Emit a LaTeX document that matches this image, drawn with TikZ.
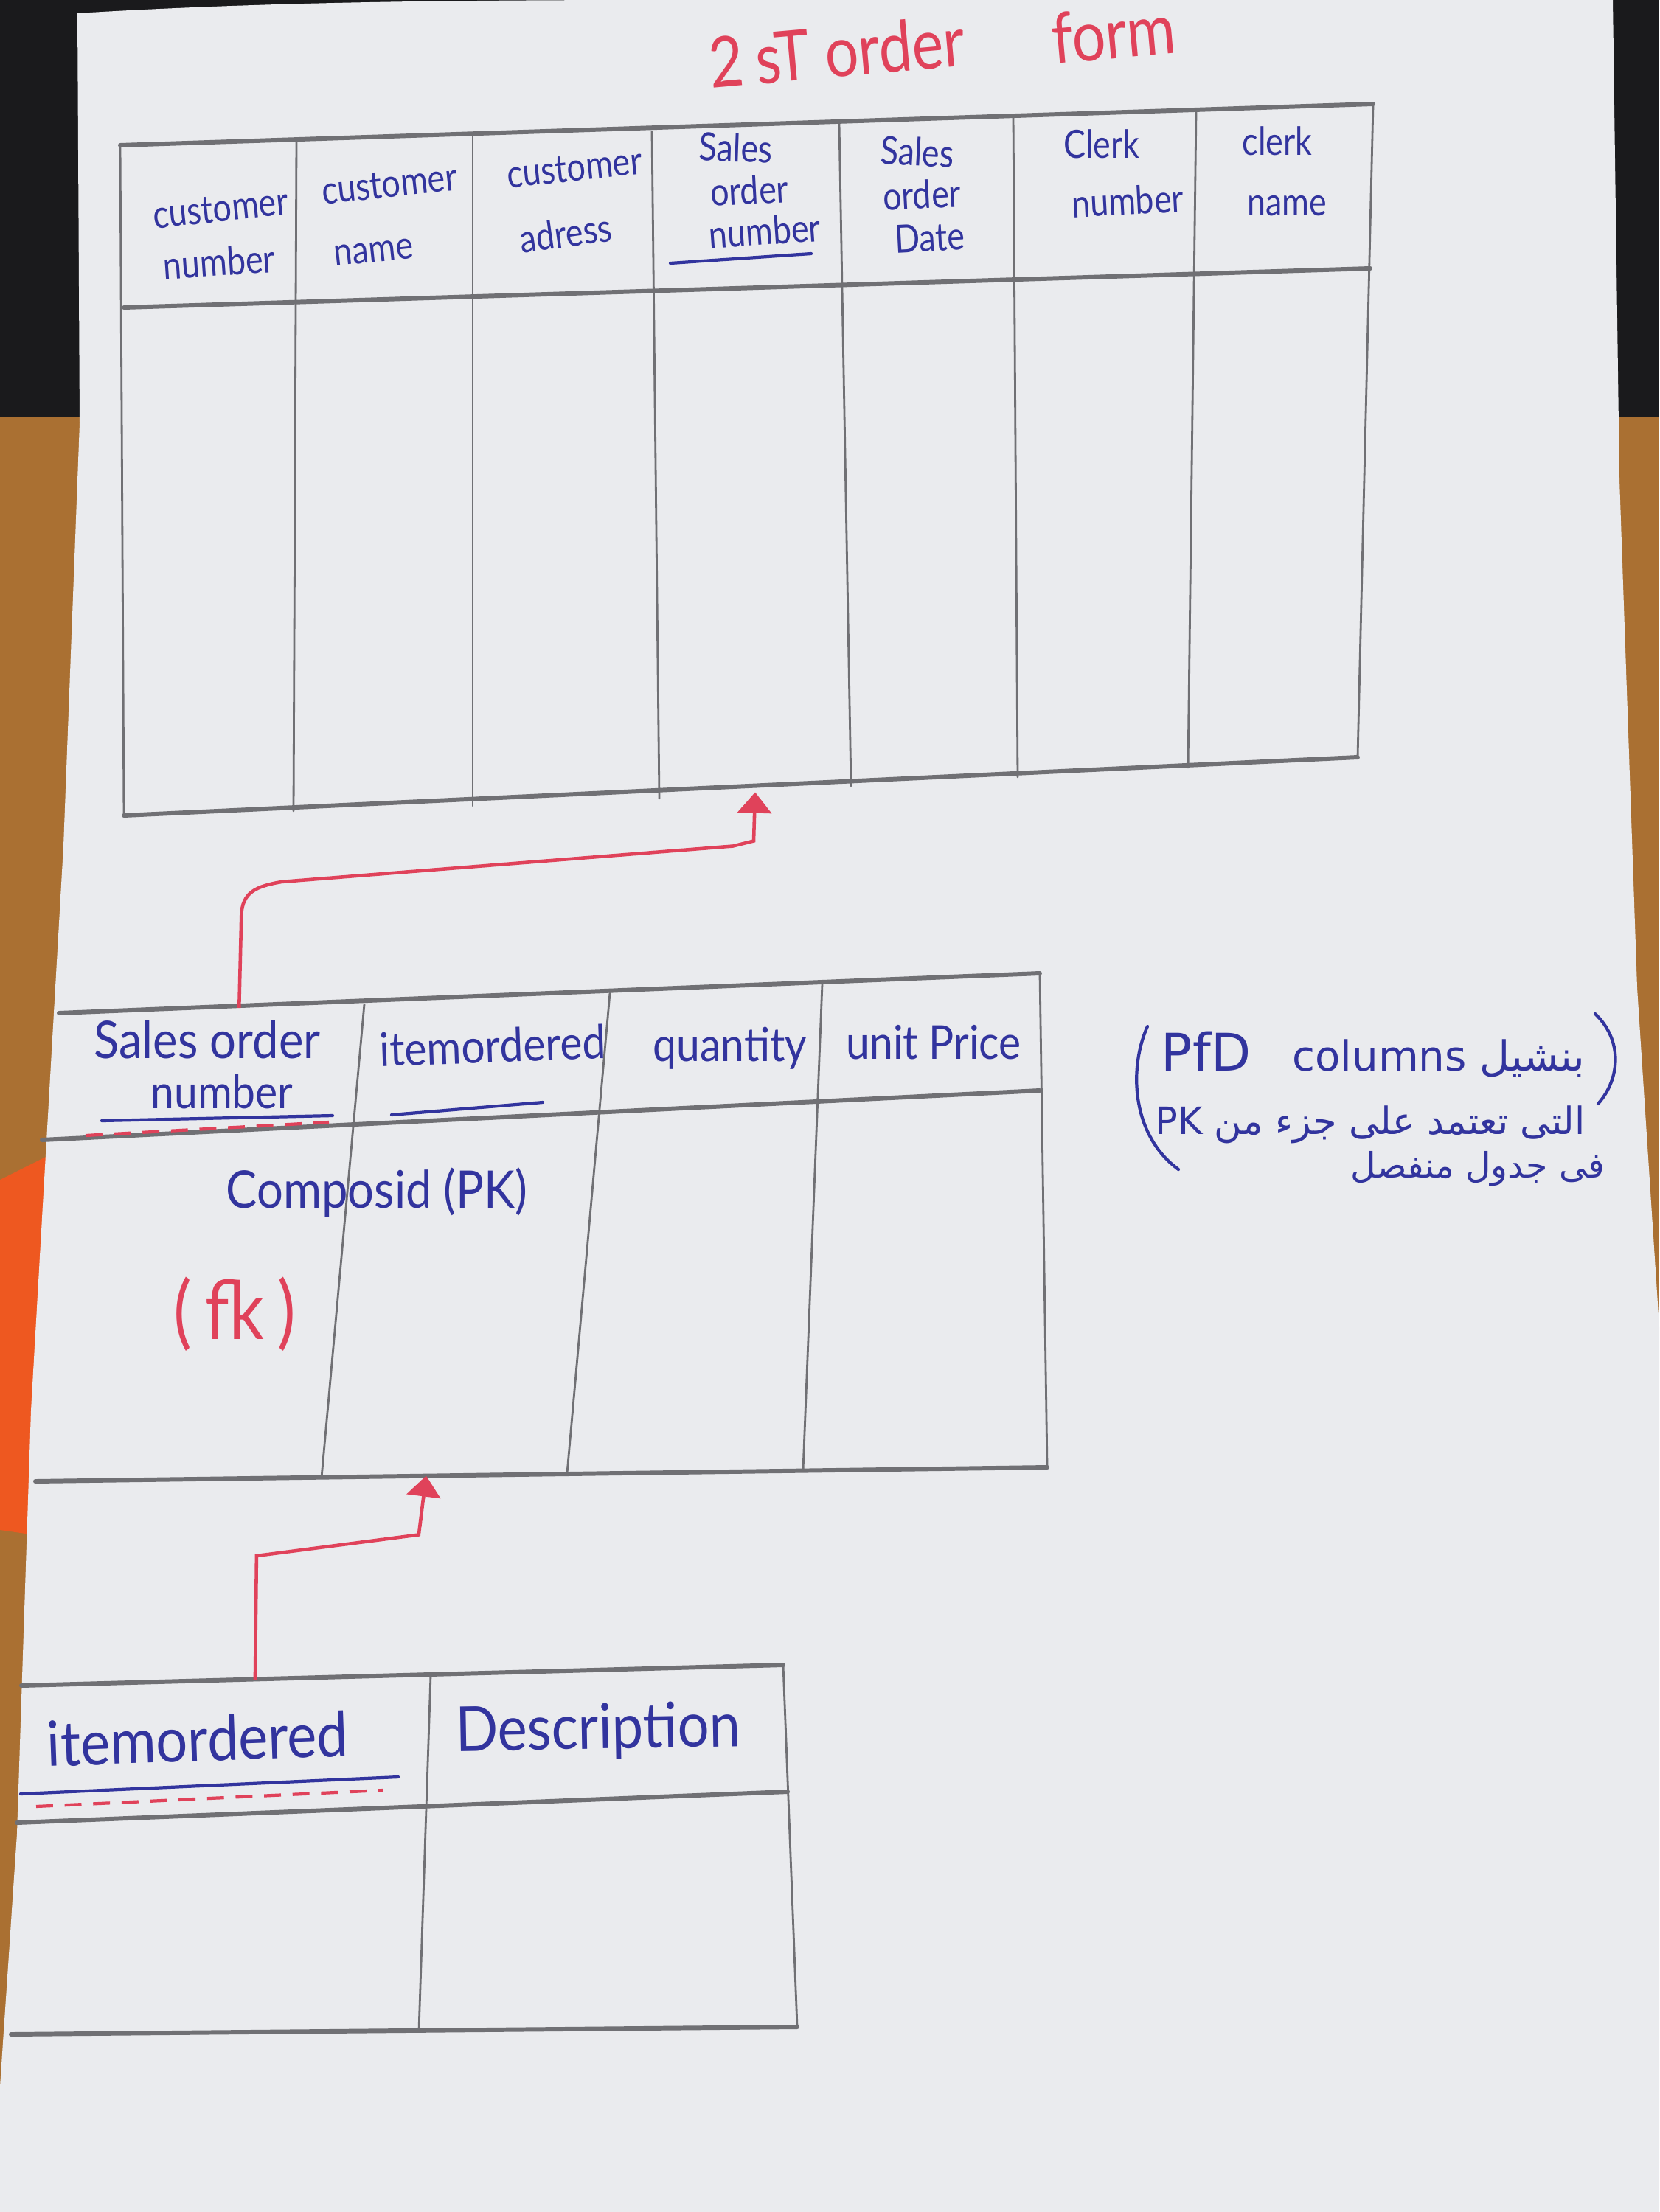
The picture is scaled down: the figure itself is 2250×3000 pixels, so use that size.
\documentclass[tikz,border=0pt]{standalone}
\usepackage{fontspec}
\setmainfont{Lato}
\newfontfamily\handn[FakeStretch=0.85]{Lato}
\newfontfamily\handw[FakeStretch=0.9]{Lato}
\newfontfamily\arabicfont[Script=Arabic]{DejaVu Sans}
\TeXXeTstate=1
\usetikzlibrary{arrows.meta,calc}

\definecolor{paper}{RGB}{234,235,238}
\definecolor{pencil}{RGB}{112,112,116}
\definecolor{inkblue}{RGB}{50,52,158}
\definecolor{inkred}{RGB}{224,66,90}
\definecolor{wood}{RGB}{170,112,50}
\definecolor{darkbg}{RGB}{26,26,28}
\definecolor{ruler}{RGB}{238,88,32}

\begin{document}
\begin{tikzpicture}[x=0.01cm,y=-0.01cm,
  vline/.style={draw=pencil,line width=0.8pt,line cap=round},
  hline/.style={draw=pencil,line width=1.7pt,line cap=round},
  headA/.style={text=inkblue,inner sep=0pt,font={\handn\fontsize{15}{17}\selectfont}},
  headB/.style={text=inkblue,inner sep=0pt,font={\handw\fontsize{18}{20}\selectfont}},
  headC/.style={text=inkblue,inner sep=0pt,font={\handw\fontsize{24}{26}\selectfont}},
  redhand/.style={text=inkred,inner sep=0pt,font={\handn\fontsize{27}{29}\selectfont}},
  note/.style={text=inkblue,inner sep=0pt,font={\arabicfont\fontsize{16}{18}\selectfont}},
  keyline/.style={draw=inkblue,line width=1.2pt,line cap=round},
  fkdash/.style={draw=inkred,line width=1.2pt,dash pattern=on 6.5pt off 4.5pt},
  fklink/.style={draw=inkred,line width=1.3pt,-{Triangle[width=13pt,length=8pt]}},
  paren/.style={draw=inkblue,line width=1.2pt,line cap=round}]

\useasboundingbox (0,0) rectangle (2250,3000);

% desk, dark backdrop and the ruler under the sheet
\fill[wood] (0,0) rectangle (2250,3000);
\fill[darkbg] (0,0) rectangle (2250,565);
\fill[ruler] (0,1600) -- (70,1565) -- (70,2085) -- (0,2075) -- cycle;

% the sheet of paper
\fill[paper] (105,18) .. controls (400,0) and (700,0) .. (960,0) -- (2187,0)
  -- (2196,650) -- (2220,1340) -- (2250,1800) -- (2250,3000) -- (0,3000)
  -- (0,2830) -- (23,2487) -- (42,1913) -- (86,1148) -- (108,574) -- cycle;

% title
\node[redhand,rotate=5] (title1) at (1135,70) {2\,sT order};
\node[redhand,rotate=5] (title2) at (1510,45) {form};

% ---------- order table ----------
\foreach \x/\y [count=\i from 0] in {163/197,402/191,641/184,884/178,1138/168,1374/159,1622/149,1862/141}
  \coordinate (t1top\i) at (\x,\y);
\foreach \x/\y [count=\i from 0] in {168/417,400/408,641/403,890/396,1145/388,1377/379,1616/371,1858/364}
  \coordinate (t1mid\i) at (\x,\y);
\foreach \x/\y [count=\i from 0] in {168/1106,398/1100,641/1093,894/1083,1154/1066,1380/1054,1611/1041,1841/1027}
  \coordinate (t1bot\i) at (\x,\y);
\foreach \i in {0,...,7} \draw[vline] (t1top\i) -- (t1bot\i);
\draw[hline] (t1top0) -- (t1top7);
\draw[hline] (t1mid0) -- (t1mid7);
\draw[hline] (t1bot0) -- (t1bot7);

\node[headA,rotate=6]  (h1a) at (299,283) {customer};
\node[headA,rotate=4]  (h1b) at (297,355) {number};
\node[headA,rotate=6]  (h2a) at (528,250) {customer};
\node[headA,rotate=6]  (h2b) at (507,342) {name};
\node[headA,rotate=6]  (h3a) at (779,228) {customer};
\node[headA,rotate=8]  (h3b) at (767,316) {adress};
\node[headA,rotate=-2] (h4a) at (998,200) {Sales};
\node[headA,rotate=3]  (h4b) at (1016,258) {order};
\node[headA,rotate=4]  (h4c) at (1037,313) {number};
\draw[keyline] (909,357) -- (1100,344);
\node[headA,rotate=-3] (h5a) at (1244,206) {Sales};
\node[headA,rotate=3]  (h5b) at (1250,264) {order};
\node[headA,rotate=3]  (h5c) at (1261,322) {Date};
\node[headA]           (h6a) at (1494,195) {Clerk};
\node[headA,rotate=3]  (h6b) at (1529,272) {number};
\node[headA]           (h7a) at (1732,191) {clerk};
\node[headA]           (h7b) at (1745,279) {name};

% ---------- order line table ----------
\foreach \x/\y [count=\i from 0] in {80/1374,494/1362,827/1347,1115/1334,1410/1320}
  \coordinate (t2top\i) at (\x,\y);
\foreach \x/\y [count=\i from 0] in {57/1546,479/1527,812/1512,1109/1497,1410/1479}
  \coordinate (t2mid\i) at (\x,\y);
\foreach \x/\y [count=\i from 0] in {48/2009,436/2004,769/1998,1089/1994,1420/1990}
  \coordinate (t2bot\i) at (\x,\y);
\foreach \i in {1,...,4} \draw[vline] (t2top\i) -- (t2bot\i);
\draw[hline] (t2top0) -- (t2top4);
\draw[hline] (t2mid0) -- (t2mid4);
\draw[hline] (t2bot0) -- (t2bot4);

\node[headB,font={\handw\fontsize{20}{22}\selectfont}] (s1a) at (281,1410) {Sales order};
\node[headB] (s1b) at (301,1480) {number};
\draw[keyline] (138,1520) -- (451,1513);
\draw[fkdash] (116,1540) -- (446,1522);
\node[headB,rotate=2] (s2) at (668,1418) {itemordered};
\draw[keyline] (531,1512) -- (736,1495);
\node[headB] (s3) at (990,1422) {quantity};
\node[headB] (s4) at (1266,1414) {unit Price};
\node[headB,font={\handw\fontsize{20}{22}\selectfont}] (pk) at (511,1617) {Composid (PK)};
\node[redhand,font={\handn\fontsize{31}{33}\selectfont}] (fk) at (318,1782) {(\,fk\,)};

% ---------- item table ----------
\foreach \x/\y [count=\i from 0] in {29/2286,584/2272,1062/2258}
  \coordinate (t3top\i) at (\x,\y);
\foreach \x/\y [count=\i from 0] in {23/2472,576/2450,1068/2430}
  \coordinate (t3mid\i) at (\x,\y);
\foreach \x/\y [count=\i from 0] in {15/2759,568/2754,1081/2749}
  \coordinate (t3bot\i) at (\x,\y);
\foreach \i in {1,2} \draw[vline] (t3top\i) -- (t3bot\i);
\draw[hline] (t3top0) -- (t3top2);
\draw[hline] (t3mid0) -- (t3mid2);
\draw[hline] (t3bot0) -- (t3bot2);

\node[headC,rotate=2] (i1) at (268,2358) {itemordered};
\draw[keyline] (28,2433) -- (540,2410);
\draw[fkdash] (49,2450) -- (519,2428);
\node[headC,rotate=1] (i2) at (811,2348) {Description};

% ---------- foreign key links ----------
\coordinate (fk1) at ($(t2top0)!0.59!(t2top1)$);
\coordinate (pk1) at ($(t1bot3)!0.5!(t1bot4)$);
\draw[fklink] (fk1) -- ++(3,-125) .. controls +(1,-32) and +(-35,6) .. ++(55,-46)
  -- ($(pk1)+(-30,73)$) -- ($(pk1)+(-2,66)$) -- (pk1);

\coordinate (fk2) at ($(t3top0)!0.571!(t3top1)$);
\coordinate (pk2) at ($(t2bot1)!0.426!(t2bot2)$);
\draw[fklink] (fk2) -- ++(2,-168) -- ($(pk2)+(-10,80)$) -- (pk2);

% ---------- side note ----------
\draw[paren] (1556,1392) .. controls (1530,1450) and (1535,1540) .. (1598,1586);
\draw[paren] (2163,1375) .. controls (2200,1410) and (2198,1462) .. (2167,1497);
\node[note] (n1) at (1862,1430) {\beginR بنشيل \beginL{\fontsize{20}{22}\selectfont PfD}\quad columns\endL\endR};
\node[note,font={\arabicfont\fontsize{14.5}{17}\selectfont}] (n2) at (1858,1525) {\beginR التى تعتمد على جزء من \beginL PK\endL\endR};
\node[note,font={\arabicfont\fontsize{13.5}{16}\selectfont}] (n3) at (2004,1585) {\beginR فى جدول منفصل\endR};

\end{tikzpicture}
\end{document}
